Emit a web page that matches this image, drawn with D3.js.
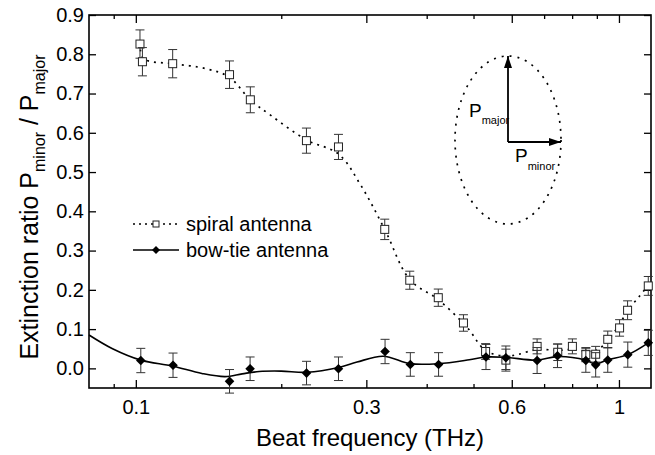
<!DOCTYPE html>
<html>
<head>
<meta charset="utf-8">
<script src="https://cdn.jsdelivr.net/npm/d3@7"></script>
<style>
	body { margin: 0; background: #fff; }
	svg { display: block; font-family: "Liberation Sans", Arial, Helvetica, sans-serif; }
</style>
</head>
<body>
<div id="app"></div>
<script>
///////////////////////////////////////////////////////////////////////////
//////////////////////////// data /////////////////////////////////////////
///////////////////////////////////////////////////////////////////////////

// spiral antenna (open squares)
const spiralFreq = [0.102, 0.1032, 0.1192, 0.1563, 0.1726, 0.2255, 0.2627, 0.3275, 0.369, 0.4227, 0.4766, 0.5296, 0.5834, 0.677, 0.747, 0.801, 0.854, 0.895, 0.948, 1.003, 1.042, 1.15];
const spiralRatio = [0.826, 0.781, 0.776, 0.748, 0.684, 0.58, 0.564, 0.354, 0.2245, 0.18, 0.1156, 0.043, 0.021, 0.056, 0.041, 0.056, 0.035, 0.036, 0.074, 0.103, 0.148, 0.21];
const spiralErr = [0.036, 0.036, 0.036, 0.035, 0.033, 0.032, 0.032, 0.026, 0.023, 0.022, 0.021, 0.02, 0.028, 0.019, 0.021, 0.019, 0.018, 0.02, 0.021, 0.021, 0.024, 0.024];

// bow-tie antenna (filled diamonds)
const bowtieFreq = [0.1024, 0.1194, 0.1563, 0.1724, 0.2256, 0.2627, 0.328, 0.37, 0.4233, 0.5306, 0.5834, 0.677, 0.746, 0.854, 0.895, 0.948, 1.043, 1.15];
const bowtieRatio = [0.02, 0.008, -0.033, -0.001, -0.012, -0.001, 0.043, 0.01, 0.01, 0.029, 0.027, 0.02, 0.032, 0.02, 0.009, 0.021, 0.035, 0.065];
const bowtieErr = [0.031, 0.031, 0.03, 0.03, 0.03, 0.03, 0.031, 0.03, 0.03, 0.032, 0.03, 0.033, 0.03, 0.03, 0.031, 0.031, 0.032, 0.032];

// smoothed guide curves
const spiralFitFreq = [0.1022, 0.1034, 0.107, 0.119, 0.14, 0.156, 0.1726, 0.19, 0.2255, 0.2627, 0.292, 0.3275, 0.369, 0.4227, 0.4845, 0.53, 0.5834, 0.62, 0.677, 0.748, 0.8, 0.855, 0.895, 0.92, 0.948, 1.003, 1.042, 1.1, 1.15];
const spiralFitRatio = [0.812, 0.79, 0.782, 0.776, 0.763, 0.742, 0.684, 0.645, 0.582, 0.546, 0.467, 0.354, 0.226, 0.175, 0.105, 0.045, 0.031, 0.036, 0.048, 0.046, 0.048, 0.044, 0.045, 0.054, 0.071, 0.112, 0.148, 0.182, 0.212];

const bowtieFitFreq = [0.08, 0.0895, 0.1024, 0.119, 0.137, 0.153, 0.166, 0.18, 0.2, 0.226, 0.263, 0.287, 0.325, 0.37, 0.423, 0.49, 0.53, 0.583, 0.677, 0.746, 0.854, 0.895, 0.948, 1.043, 1.15];
const bowtieFitRatio = [0.085, 0.05, 0.021, 0.006, -0.013, -0.021, -0.014, -0.008, -0.007, -0.01, 0.002, 0.016, 0.031, 0.012, 0.012, 0.022, 0.029, 0.028, 0.021, 0.03, 0.021, 0.011, 0.022, 0.035, 0.065];

// ticks
const xMajorTicks = [0.1, 0.3, 0.6, 1];
const xMinorTicks = [0.09, 0.2, 0.4, 0.5, 0.7, 0.8, 0.9];
const yTicks = [0, 0.1, 0.2, 0.3, 0.4, 0.5, 0.6, 0.7, 0.8, 0.9];

const legendLabels = ["spiral antenna", "bow-tie antenna"];

///////////////////////////////////////////////////////////////////////////
//////////////////////////// set up svg ///////////////////////////////////
///////////////////////////////////////////////////////////////////////////

const width = 655;
const height = 455;
const margin = { top: 15, right: 4, bottom: 67, left: 89 };

const svg = d3
	.select("#app")
	.append("svg")
	.attr("width", width)
	.attr("height", height);

//////////////////////////// scales ///////////////////////////////////////

const xScale = d3
	.scaleLog()
	.domain([0.08, 1.165])
	.range([margin.left, width - margin.right]);

const yScale = d3
	.scaleLinear()
	.domain([-0.05, 0.9])
	.range([height - margin.bottom, margin.top]);

const zip = (xs, ys, es) => xs.map((x, i) => ({ x, y: ys[i], e: es ? es[i] : 0 }));
const spiral = zip(spiralFreq, spiralRatio, spiralErr);
const bowtie = zip(bowtieFreq, bowtieRatio, bowtieErr);

///////////////////////////////////////////////////////////////////////////
//////////////////////////// axes /////////////////////////////////////////
///////////////////////////////////////////////////////////////////////////

const fmt = (d) => (d >= 1 ? d3.format("d")(d) : d3.format(".1f")(d));
const bottomY = height - margin.bottom;

const styleAxis = (g) => {
	g.select(".domain").remove();
	g.selectAll(".tick line").attr("stroke", "#000").attr("stroke-width", 1.3);
	g.selectAll(".tick text").attr("fill", "#000").style("font-size", "20px");
};

svg.append("g")
	.attr("transform", `translate(0,${bottomY})`)
	.call(d3.axisBottom(xScale).tickValues(xMajorTicks).tickSize(-8).tickPadding(12).tickFormat(fmt))
	.call(styleAxis);

svg.append("g")
	.attr("transform", `translate(0,${bottomY})`)
	.call(d3.axisBottom(xScale).tickValues(xMinorTicks).tickSize(-4).tickFormat(""))
	.call(styleAxis);

svg.append("g")
	.attr("transform", `translate(0,${margin.top})`)
	.call(d3.axisTop(xScale).tickValues(xMajorTicks).tickSize(-8).tickFormat(""))
	.call(styleAxis);

svg.append("g")
	.attr("transform", `translate(0,${margin.top})`)
	.call(d3.axisTop(xScale).tickValues(xMinorTicks).tickSize(-4).tickFormat(""))
	.call(styleAxis);

svg.append("g")
	.attr("transform", `translate(${margin.left},0)`)
	.call(d3.axisLeft(yScale).tickValues(yTicks).tickSize(-7).tickPadding(5).tickFormat(d3.format(".1f")))
	.call(styleAxis);

svg.append("g")
	.attr("transform", `translate(${width - margin.right},0)`)
	.call(d3.axisRight(yScale).tickValues(yTicks).tickSize(-7).tickFormat(""))
	.call(styleAxis);

// frame
svg.append("rect")
	.attr("x", margin.left)
	.attr("y", margin.top)
	.attr("width", width - margin.left - margin.right)
	.attr("height", height - margin.top - margin.bottom)
	.attr("fill", "none")
	.attr("stroke", "#000")
	.attr("stroke-width", 1.6);

// axis titles
svg.append("text")
	.attr("x", (margin.left + width - margin.right) / 2)
	.attr("y", 446)
	.attr("text-anchor", "middle")
	.style("font-size", "24px")
	.text("Beat frequency (THz)");

const yTitle = svg.append("text")
	.attr("transform", "translate(38,207) rotate(-90)")
	.attr("text-anchor", "middle")
	.style("font-size", "25px");
yTitle.append("tspan").text("Extinction ratio P");
yTitle.append("tspan").attr("dy", 7).style("font-size", "16px").text("minor");
yTitle.append("tspan").attr("dy", -7).text(" / P");
yTitle.append("tspan").attr("dy", 7).style("font-size", "16px").text("major");

///////////////////////////////////////////////////////////////////////////
//////////////////////////// plot /////////////////////////////////////////
///////////////////////////////////////////////////////////////////////////

const line = d3
	.line()
	.x((d) => xScale(d.x))
	.y((d) => yScale(d.y))
	.curve(d3.curveCatmullRom.alpha(0.5));

const plot = svg.append("g");

plot.append("path")
	.datum(zip(spiralFitFreq, spiralFitRatio))
	.attr("d", line)
	.attr("fill", "none")
	.attr("stroke", "#000")
	.attr("stroke-width", 1.7)
	.attr("stroke-dasharray", "2,5");

plot.append("path")
	.datum(zip(bowtieFitFreq, bowtieFitRatio))
	.attr("d", line)
	.attr("fill", "none")
	.attr("stroke", "#000")
	.attr("stroke-width", 1.6);

const diamond = (r) => `M0,${-r}L${r},0L0,${r}L${-r},0Z`;

const drawSeries = (data, cls, drawMark) => {
	const g = plot.selectAll("g." + cls)
		.data(data)
		.enter()
		.append("g")
		.attr("class", cls)
		.attr("transform", (d) => `translate(${xScale(d.x)},0)`);

	// error bars
	g.append("line")
		.attr("y1", (d) => yScale(d.y - d.e))
		.attr("y2", (d) => yScale(d.y + d.e))
		.attr("stroke", "#333");
	g.append("line")
		.attr("x1", -4.5).attr("x2", 4.5)
		.attr("y1", (d) => yScale(d.y + d.e))
		.attr("y2", (d) => yScale(d.y + d.e))
		.attr("stroke", "#333");
	g.append("line")
		.attr("x1", -4.5).attr("x2", 4.5)
		.attr("y1", (d) => yScale(d.y - d.e))
		.attr("y2", (d) => yScale(d.y - d.e))
		.attr("stroke", "#333");

	drawMark(g);
};

drawSeries(spiral, "spiral", (g) =>
	g.append("rect")
		.attr("x", -4)
		.attr("y", (d) => yScale(d.y) - 4)
		.attr("width", 8)
		.attr("height", 8)
		.attr("fill", "#fff")
		.attr("stroke", "#222")
		.attr("stroke-width", 1)
);

drawSeries(bowtie, "bowtie", (g) =>
	g.append("path")
		.attr("transform", (d) => `translate(0,${yScale(d.y)})`)
		.attr("d", diamond(4.8))
		.attr("fill", "#000")
);

///////////////////////////////////////////////////////////////////////////
//////////////////////////// legend ///////////////////////////////////////
///////////////////////////////////////////////////////////////////////////

const legend = svg.append("g").attr("transform", "translate(133,224)");

legend.append("line")
	.attr("x1", 0).attr("x2", 46)
	.attr("stroke", "#000").attr("stroke-width", 1.4)
	.attr("stroke-dasharray", "2,4");
legend.append("rect")
	.attr("x", 20).attr("y", -3).attr("width", 6).attr("height", 6)
	.attr("fill", "#fff").attr("stroke", "#222");
legend.append("text")
	.attr("x", 53).attr("y", 6.5)
	.style("font-size", "20px")
	.text(legendLabels[0]);

legend.append("line")
	.attr("x1", 0).attr("x2", 46)
	.attr("y1", 26).attr("y2", 26)
	.attr("stroke", "#000").attr("stroke-width", 1.6);
legend.append("path")
	.attr("transform", "translate(23,26)")
	.attr("d", diamond(4))
	.attr("fill", "#000");
legend.append("text")
	.attr("x", 53).attr("y", 32.5)
	.style("font-size", "20px")
	.text(legendLabels[1]);

///////////////////////////////////////////////////////////////////////////
//////////////////////////// polarization sketch //////////////////////////
///////////////////////////////////////////////////////////////////////////

const defs = svg.append("defs");
defs.append("marker")
	.attr("id", "arrow")
	.attr("viewBox", "0 0 12 8")
	.attr("refX", 12).attr("refY", 4)
	.attr("markerWidth", 12).attr("markerHeight", 8)
	.attr("markerUnits", "userSpaceOnUse")
	.attr("orient", "auto")
	.append("path")
	.attr("d", "M0,0L12,4L0,8Z")
	.attr("fill", "#000");

const sketch = svg.append("g").attr("transform", "translate(508,140)");

sketch.append("ellipse")
	.attr("rx", 53).attr("ry", 84)
	.attr("fill", "none")
	.attr("stroke", "#000")
	.attr("stroke-width", 1.7)
	.attr("stroke-dasharray", "2,6");

sketch.append("line")
	.attr("x1", 0).attr("y1", 2).attr("x2", 0).attr("y2", -84)
	.attr("stroke", "#000").attr("stroke-width", 1.8)
	.attr("marker-end", "url(#arrow)");
sketch.append("line")
	.attr("x1", 0).attr("y1", 2).attr("x2", 53).attr("y2", 2)
	.attr("stroke", "#000").attr("stroke-width", 1.8)
	.attr("marker-end", "url(#arrow)");

const pMajor = sketch.append("text").attr("x", -39).attr("y", -23);
pMajor.append("tspan").style("font-size", "19px").text("P");
pMajor.append("tspan").attr("dy", 7).style("font-size", "11px").text("major");

const pMinor = sketch.append("text").attr("x", 7).attr("y", 22);
pMinor.append("tspan").style("font-size", "19px").text("P");
pMinor.append("tspan").attr("dy", 8).style("font-size", "11px").text("minor");
</script>
</body>
</html>
